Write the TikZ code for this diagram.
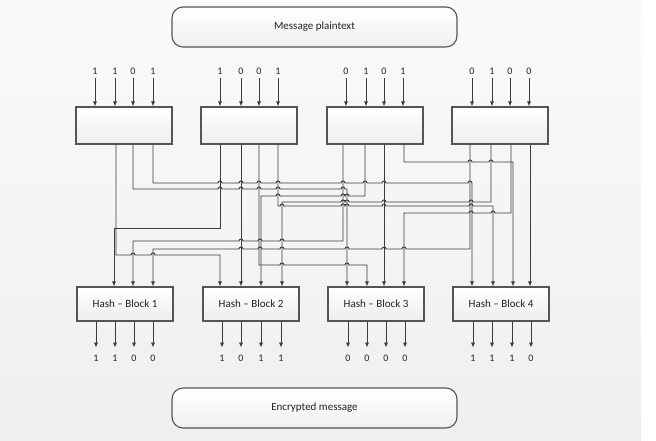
\documentclass[tikz,border=0pt]{standalone}
\usepackage{fontspec}
\setmainfont{Carlito}
\usetikzlibrary{arrows.meta}
\definecolor{wirec}{HTML}{3C3C3C}
\definecolor{boxc}{HTML}{555555}
\definecolor{txtc}{HTML}{222222}
\definecolor{bgtop}{HTML}{FAFAFA}
\definecolor{bgbot}{HTML}{EFEFEF}
% line jumps on horizontal runs: going right / going left
\newcommand\hopr[2]{\foreach \hx in {#2}{-- (\hx-2,#1) arc[start angle=180,end angle=0,radius=2pt]}}
\newcommand\hopl[2]{\foreach \hx in {#2}{-- (\hx+2,#1) arc[start angle=0,end angle=180,radius=2pt]}}
\begin{document}
\begin{tikzpicture}[x=1pt,y=-1pt,
  wire/.style={draw=wirec,line width=0.95pt},
  arr/.style={wire,-{Latex[length=5pt,width=4.2pt]}},
  blk/.style={draw=boxc,line width=1.1pt,top color=white,bottom color=gray!14,
    minimum width=96pt,inner sep=0pt,text=txtc},
  topblk/.style={blk,minimum height=37pt},
  hashblk/.style={blk,minimum height=34pt,font=\fontsize{11}{13}\selectfont},
  pill/.style={draw=boxc,line width=1.1pt,rounded corners=11pt,top color=white,
    bottom color=gray!12,minimum width=285pt,minimum height=40pt,text=txtc,
    font=\fontsize{11}{13}\selectfont},
  bit/.style={inner sep=1pt,text=txtc,font=\fontsize{10}{12}\selectfont}
]
\useasboundingbox (0,0) rectangle (656,440);
\shade[top color=bgtop,bottom color=bgbot] (0,0) rectangle (641,440);

% plaintext and ciphertext
\node[pill] (msg) at (314.5,27) {Message plaintext};
\node[pill] (enc) at (314.5,408) {Encrypted message};

% input blocks
\node[topblk] (b1) at (124,125.5) {};
\node[topblk] (b2) at (249,125.5) {};
\node[topblk] (b3) at (375,125.5) {};
\node[topblk] (b4) at (500,125.5) {};

% hash blocks
\node[hashblk] (h1) at (125,304) {Hash -- Block 1};
\node[hashblk] (h2) at (251,304) {Hash -- Block 2};
\node[hashblk] (h3) at (376,304) {Hash -- Block 3};
\node[hashblk] (h4) at (501,304) {Hash -- Block 4};

% input bits
\foreach \n/\x/\v/\bx in {11/95/1/b1,12/115/1/b1,13/133/0/b1,14/153/1/b1,
    21/220/1/b2,22/241/0/b2,23/259/0/b2,24/278/1/b2,
    31/346/0/b3,32/366/1/b3,33/384/0/b3,34/403/1/b3,
    41/472/0/b4,42/492/1/b4,43/510/0/b4,44/529/0/b4}{
  \node[bit] (in\n) at (\x,71) {\v};
  \draw[arr] ([yshift=-3pt]in\n.south) -- (in\n |- \bx.north);
}

% output bits
\foreach \n/\x/\v/\hx in {11/96/1/h1,12/115/1/h1,13/134/0/h1,14/153/0/h1,
    21/222/1/h2,22/241/0/h2,23/261/1/h2,24/281/1/h2,
    31/348/0/h3,32/367/0/h3,33/386/0/h3,34/405/0/h3,
    41/473/1/h4,42/492/1/h4,43/512/1/h4,44/531/0/h4}{
  \node[bit] (out\n) at (\x,358) {\v};
  \draw[arr] (out\n |- \hx.south) -- ([yshift=6pt]out\n.north);
}

% ports on the block edges
\foreach \n/\x in {1/116,2/133,3/153} \coordinate (b1o\n) at (b1.south -| \x,0);
\foreach \n/\x in {1/220,2/241,3/259,4/278} \coordinate (b2o\n) at (b2.south -| \x,0);
\foreach \n/\x in {1/343,2/365,3/384,4/404} \coordinate (b3o\n) at (b3.south -| \x,0);
\foreach \n/\x in {1/470,2/491,3/511,4/530} \coordinate (b4o\n) at (b4.south -| \x,0);
\foreach \n/\x in {1/114,2/133,3/153} \coordinate (h1i\n) at (h1.north -| \x,0);
\foreach \n/\x in {1/220,2/241,3/261,4/282} \coordinate (h2i\n) at (h2.north -| \x,0);
\foreach \n/\x in {1/347,2/367,3/384,4/404} \coordinate (h3i\n) at (h3.north -| \x,0);
\foreach \n/\x in {1/472,2/493,3/513,4/530} \coordinate (h4i\n) at (h4.north -| \x,0);

% block 1 outputs
\draw[arr] (b1o1) -- (116,255) \hopr{255}{133,153} -- (220,255) -- (h2i1);
\draw[arr] (b1o2) -- (133,189) \hopr{189}{220,241,259,278,343} -- (347,189) -- (h3i1);
\draw[arr] (b1o3) -- (153,183) \hopr{183}{220,241,259,278,343,365,384,470} -- (h4i1);
% block 2 outputs
\draw[arr] (b2o1) -- (220,228) -- (114,228) -- (h1i1);
\draw[arr] (b2o2) -- (h2i2);
\draw[arr] (b2o3) -- (259,265) \hopr{265}{282,347} -- (367,265) -- (h3i2);
\draw[arr] (b2o4) -- (278,206) \hopr{206}{282,343,347,384,471} -- (493,206) -- (h4i2);
% block 3 outputs
\draw[arr] (b3o1) -- (343,241) \hopl{241}{282,260,241} -- (133,241) -- (h1i2);
\draw[arr] (b3o2) -- (365,196) \hopl{196}{347,343,278} -- (261,196) -- (h2i3);
\draw[arr] (b3o3) -- (h3i3);
\draw[arr] (b3o4) -- (404,162) \hopr{162}{470,491} -- (513,162) -- (h4i3);
% block 4 outputs
\draw[arr] (b4o1) -- (470,249) \hopl{249}{404,384,347,282,260,241} -- (153,249) -- (h1i3);
\draw[arr] (b4o2) -- (491,202) \hopl{202}{471,384,347,343} -- (282,202) -- (h2i4);
\draw[arr] (b4o3) -- (511,213) \hopl{213}{493,471} -- (404,213) -- (h3i4);
\draw[arr] (b4o4) -- (h4i4);
\end{tikzpicture}
\end{document}
